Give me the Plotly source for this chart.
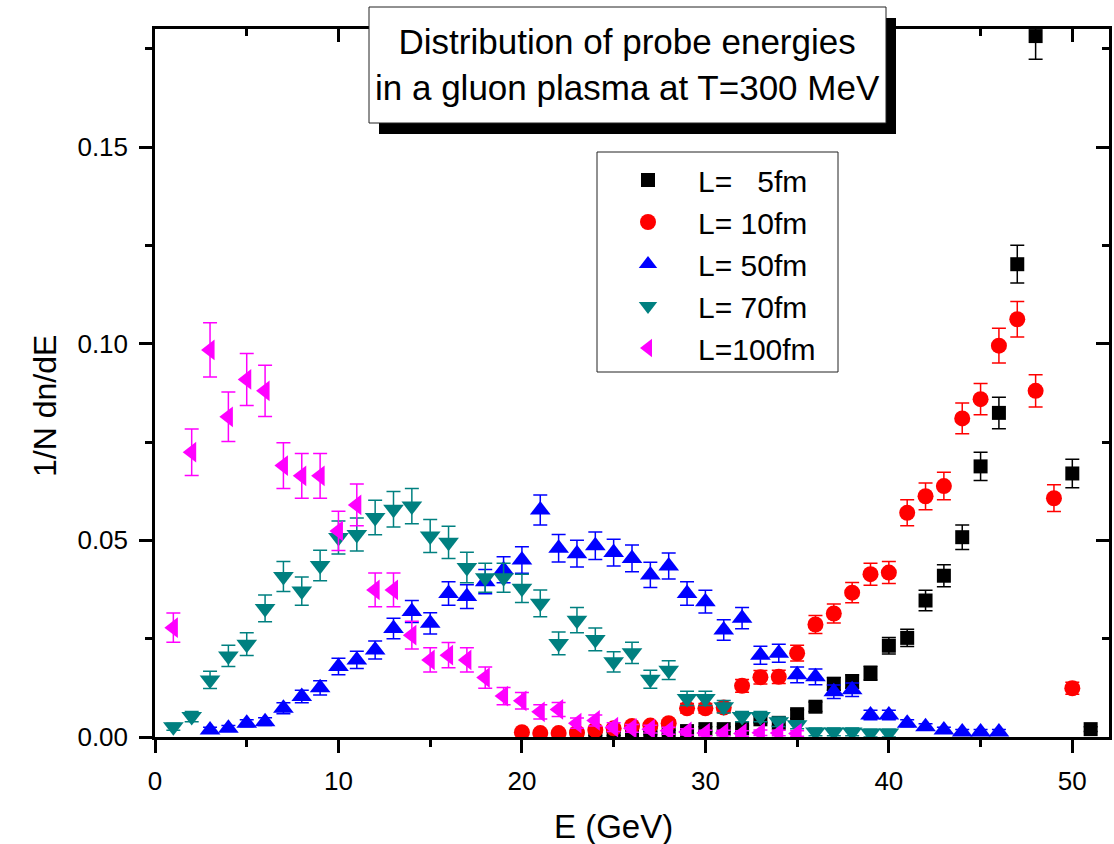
import plotly.graph_objects as go

# ---------------- data ----------------
E_5 = list(range(23, 49)) + [50, 51]
V_5 = [0.0005, 0.0008, 0.0008, 0.0010, 0.0010, 0.0012, 0.0015, 0.0020, 0.0020, 0.0022,
       0.0045, 0.0036, 0.0058, 0.0077, 0.0135, 0.0141, 0.0162, 0.0232, 0.0252, 0.0347,
       0.0410, 0.0508, 0.0688, 0.0824, 0.1202, 0.1782, 0.0670, 0.0020]
ERR_5 = [0.0003, 0.0004, 0.0004, 0.0004, 0.0004, 0.0005, 0.0005, 0.0006, 0.0006, 0.0007,
         0.0009, 0.0008, 0.0011, 0.0012, 0.0016, 0.0017, 0.0018, 0.0021, 0.0022, 0.0026,
         0.0028, 0.0031, 0.0036, 0.0040, 0.0048, 0.0059, 0.0036, 0.0006]

E_10 = list(range(20, 51))
V_10 = [0.0012, 0.0010, 0.0010, 0.0011, 0.0018, 0.0022, 0.0028, 0.0029, 0.0035,
        0.0073, 0.0073, 0.0075,
        0.0130, 0.0152, 0.0153, 0.0213, 0.0286, 0.0314, 0.0367, 0.0414, 0.0418,
        0.0570, 0.0612, 0.0638, 0.0810, 0.0859, 0.0995, 0.1062, 0.0880, 0.0607, 0.0124]
ERR_10 = [0.0005, 0.0004, 0.0004, 0.0005, 0.0006, 0.0006, 0.0007, 0.0007, 0.0008,
          0.0012, 0.0012, 0.0012,
          0.0016, 0.0017, 0.0017, 0.0020, 0.0023, 0.0024, 0.0026, 0.0028, 0.0028,
          0.0033, 0.0034, 0.0035, 0.0039, 0.0040, 0.0044, 0.0045, 0.0041, 0.0034, 0.0015]

E_50 = list(range(3, 47))
V_50 = [0.0018, 0.0022, 0.0035, 0.0039, 0.0073, 0.0103, 0.0125, 0.0179, 0.0196, 0.0221,
        0.0276, 0.0319, 0.0289, 0.0365, 0.0357, 0.0395, 0.0425, 0.0450, 0.0577, 0.0480,
        0.0466, 0.0486, 0.0469, 0.0454, 0.0412, 0.0435, 0.0365, 0.0344, 0.0272, 0.0302,
        0.0208, 0.0213, 0.0158, 0.0153, 0.0115, 0.0120, 0.0056, 0.0056, 0.0035, 0.0026,
        0.0018, 0.0013, 0.0013, 0.0013]
ERR_50 = [0.0007, 0.0007, 0.0009, 0.0010, 0.0014, 0.0016, 0.0018, 0.0021, 0.0022, 0.0023,
          0.0026, 0.0028, 0.0027, 0.0030, 0.0030, 0.0031, 0.0033, 0.0034, 0.0038, 0.0035,
          0.0034, 0.0035, 0.0034, 0.0034, 0.0032, 0.0033, 0.0030, 0.0029, 0.0026, 0.0027,
          0.0023, 0.0023, 0.0020, 0.0020, 0.0017, 0.0017, 0.0012, 0.0012, 0.0009, 0.0008,
          0.0007, 0.0006, 0.0006, 0.0006]

E_70 = list(range(1, 41))
V_70 = [0.0026, 0.0052, 0.0145, 0.0206, 0.0236, 0.0327, 0.0408, 0.0371, 0.0436, 0.0507,
        0.0515, 0.0558, 0.0579, 0.0587, 0.0511, 0.0495, 0.0431, 0.0405, 0.0405, 0.0378,
        0.0340, 0.0238, 0.0297, 0.0248, 0.0191, 0.0214, 0.0147, 0.0170, 0.0098, 0.0098,
        0.0077, 0.0052, 0.0052, 0.0039, 0.0031, 0.0013, 0.0013, 0.0013, 0.0010, 0.0010]
ERR_70 = [0.0009, 0.0013, 0.0022, 0.0027, 0.0029, 0.0034, 0.0038, 0.0036, 0.0039, 0.0042,
          0.0042, 0.0044, 0.0045, 0.0045, 0.0042, 0.0041, 0.0039, 0.0037, 0.0037, 0.0036,
          0.0034, 0.0029, 0.0032, 0.0029, 0.0026, 0.0027, 0.0023, 0.0024, 0.0018, 0.0018,
          0.0016, 0.0013, 0.0013, 0.0012, 0.0010, 0.0010, 0.0010, 0.0010, 0.0010, 0.0010]

E_100 = list(range(1, 36))
V_100 = [0.0278, 0.0724, 0.0984, 0.0814, 0.0909, 0.0880, 0.0690, 0.0664, 0.0664, 0.0524,
         0.0590, 0.0374, 0.0374, 0.0259, 0.0196, 0.0208, 0.0196, 0.0151, 0.0104, 0.0092,
         0.0064, 0.0070, 0.0035, 0.0042, 0.0025, 0.0022, 0.0020, 0.0016, 0.0013, 0.0010,
         0.0010, 0.0009, 0.0011, 0.0010, 0.0009]
ERR_100 = [0.0037, 0.0059, 0.0069, 0.0063, 0.0066, 0.0065, 0.0058, 0.0057, 0.0057, 0.0050,
           0.0053, 0.0043, 0.0043, 0.0035, 0.0031, 0.0032, 0.0031, 0.0027, 0.0022, 0.0021,
           0.0018, 0.0018, 0.0013, 0.0014, 0.0011, 0.0010, 0.0010, 0.0009, 0.0008, 0.0007,
           0.0007, 0.0007, 0.0007, 0.0007, 0.0007]

NAMES = ["L=\u00a0\u00a0\u00a05fm", "L=\u00a010fm", "L=\u00a050fm", "L=\u00a070fm", "L=100fm"]
TITLE_LINES = ["Distribution of probe energies", "in a gluon plasma at T=300 MeV"]
X_LABEL = "E (GeV)"
Y_LABEL = "1/N dn/dE"
X_TICKS = [0, 10, 20, 30, 40, 50]
Y_TICKS = [0.00, 0.05, 0.10, 0.15]

# ---------------- figure ----------------
FONT = "Liberation Sans, Arial, sans-serif"
W, H = 1114, 844
ML, MR, MT, MB = 155, 5, 29, 107
PW, PH = W - ML - MR, H - MT - MB


def px2paper(px, py):
    return (px - ML) / PW, (H - MB - py) / PH


fig = go.Figure()

series = [
    (E_5, V_5, ERR_5, "#000000", "square", 14),
    (E_10, V_10, ERR_10, "#ff0000", "circle", 16),
    (E_50, V_50, ERR_50, "#0000ff", "triangle-up", 18),
    (E_70, V_70, ERR_70, "#008080", "triangle-down", 18),
    (E_100, V_100, ERR_100, "#ff00ff", "triangle-left", 18),
]
for name, (x, y, e, c, sym, sz) in zip(NAMES, series):
    fig.add_trace(go.Scatter(
        x=x, y=y, mode="markers", name=name,
        marker=dict(symbol=sym, size=sz, color=c, line=dict(width=0)),
        error_y=dict(type="data", array=e, visible=True, color=c, thickness=1.5, width=7),
    ))

# empty trace to bring up the mirrored top/right axes
fig.add_trace(go.Scatter(x=[], y=[], xaxis="x2", yaxis="y2", showlegend=False, hoverinfo="skip"))

axis_common = dict(showgrid=False, zeroline=False, showline=True, linecolor="black",
                   linewidth=2.5, tickcolor="black", tickwidth=2.5)

fig.update_layout(
    width=W, height=H,
    margin=dict(l=ML, r=MR, t=MT, b=MB),
    paper_bgcolor="white", plot_bgcolor="white",
    font=dict(family=FONT, color="black"),
    xaxis=dict(range=[0, 52], tickvals=X_TICKS, ticks="outside", ticklen=13,
               tickfont=dict(size=26), ticklabelstandoff=6,
               minor=dict(ticks="outside", ticklen=7, dtick=5, tick0=0, tickwidth=2.5, tickcolor="black"),
               **axis_common),
    yaxis=dict(range=[0, 0.18], tickvals=Y_TICKS, tickformat=".2f", ticks="outside", ticklen=13,
               tickfont=dict(size=26), ticklabelstandoff=6,
               minor=dict(ticks="outside", ticklen=7, dtick=0.025, tick0=0, tickwidth=2.5, tickcolor="black"),
               **axis_common),
    xaxis2=dict(range=[0, 52], overlaying="x", side="top", anchor="y", tickvals=X_TICKS,
                ticks="inside", ticklen=13, showticklabels=False,
                minor=dict(ticks="inside", ticklen=7, dtick=5, tick0=0, tickwidth=2.5, tickcolor="black"),
                **axis_common),
    yaxis2=dict(range=[0, 0.18], overlaying="y", side="right", anchor="x", tickvals=Y_TICKS,
                ticks="inside", ticklen=13, showticklabels=False,
                minor=dict(ticks="inside", ticklen=7, dtick=0.025, tick0=0, tickwidth=2.5, tickcolor="black"),
                **axis_common),
    legend=dict(x=(598 - ML) / PW, y=(H - MB - 154) / PH, xanchor="left", yanchor="top",
                bgcolor="rgba(0,0,0,0)", borderwidth=0,
                font=dict(size=30, family=FONT), itemwidth=90, tracegroupgap=0),
    showlegend=True,
)

# legend frame (drawn as a shape so its size matches the original)
l0 = px2paper(597, 372)
l1 = px2paper(838, 152)
fig.add_shape(type="rect", xref="paper", yref="paper", x0=l0[0], y0=l0[1], x1=l1[0], y1=l1[1],
              fillcolor="white", line=dict(color="#222", width=1), layer="above")

# axis titles
xt = px2paper(613, 826)
fig.add_annotation(xref="paper", yref="paper", x=xt[0], y=xt[1], xanchor="center", yanchor="middle",
                   text=X_LABEL, showarrow=False, font=dict(size=33, family=FONT, color="black"))
yt = px2paper(45, 406)
fig.add_annotation(xref="paper", yref="paper", x=yt[0], y=yt[1], xanchor="center", yanchor="middle",
                   text=Y_LABEL, showarrow=False, textangle=-90,
                   font=dict(size=32, family=FONT, color="black"))

# title box with drop shadow (pixel positions converted to paper coords)
bx0, by0, bx1, by1 = 369, 7, 886, 123
shx, shy = 10, 11
for (x0, y0, x1, y1, fill, lw) in [
    (bx0 + shx, by0 + shy, bx1 + shx, by1 + shy, "black", 0),
    (bx0, by0, bx1, by1, "white", 1),
]:
    p0 = px2paper(x0, y1)
    p1 = px2paper(x1, y0)
    fig.add_shape(type="rect", xref="paper", yref="paper", x0=p0[0], y0=p0[1], x1=p1[0], y1=p1[1],
                  fillcolor=fill, line=dict(color="#222", width=lw), layer="above")

cx, cy = px2paper((bx0 + bx1) / 2, (by0 + by1) / 2)
fig.add_annotation(xref="paper", yref="paper", x=cx, y=cy, xanchor="center", yanchor="middle",
                   text="<br>".join(TITLE_LINES), showarrow=False,
                   font=dict(size=35, family=FONT, color="black"), align="center")

fig.write_html("out.html")
